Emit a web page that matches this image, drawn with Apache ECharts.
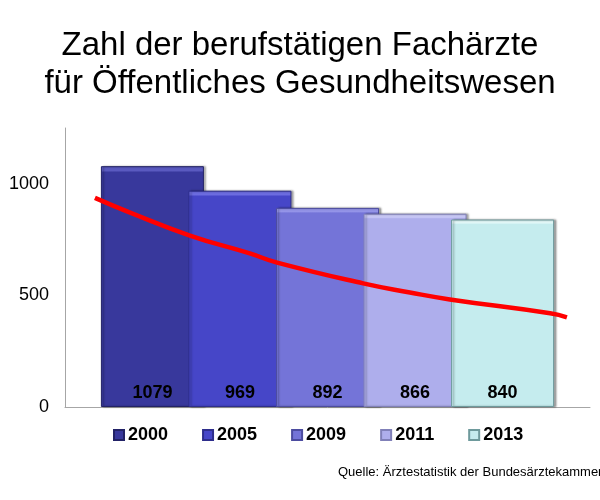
<!DOCTYPE html>
<html>
<head>
<meta charset="utf-8">
<script src="https://cdn.jsdelivr.net/npm/echarts@6/dist/echarts.min.js"></script>
<style>html,body{margin:0;padding:0;background:#fff}#c{width:600px;height:500px}</style>
</head>
<body>
<div id="c"></div>
<script>
const titleLines = ['Zahl der berufstätigen Fachärzte', 'für Öffentliches Gesundheitswesen'];
const years = ['2000', '2005', '2009', '2011', '2013'];
const values = [1079, 969, 892, 866, 840];
const colors = ['#38389c', '#4646c8', '#7474d8', '#aeaeec', '#c5ecee'];
const topColors = ['#5a5ac0', '#6c6ce0', '#9494e8', '#c8c8f6', '#e2f8f8'];
const edgeColors = ['#222266', '#2e2e8c', '#4c4ca0', '#8080b8', '#6e9a9c'];
const yTicks = [0, 500, 1000];
// trend curve: x as percent of plot width, y in data units
const trendX = [5.7, 12.4, 23.8, 35.2, 40.4, 56.8, 65.7, 73.3, 92.4, 95.6];
const trendY = [937, 871, 768, 688, 647, 554, 513, 482, 420, 402];
const source = 'Quelle: Ärztestatistik der Bundesärztekammer';

const chart = echarts.init(document.getElementById('c'));
const barSeries = years.map((y, i) => ({
  name: y,
  type: 'bar',
  xAxisIndex: 0,
  data: [values[i]],
  barWidth: 103,
  barGap: '-15%',
  itemStyle: {
    color: new echarts.graphic.LinearGradient(0, 0, 0, 1, [
      {offset: 0, color: topColors[i]},
      {offset: 0.018, color: topColors[i]},
      {offset: 0.026, color: colors[i]},
      {offset: 1, color: colors[i]}
    ]),
    borderColor: edgeColors[i],
    borderWidth: 1,
    shadowColor: 'rgba(0,0,0,0.35)',
    shadowOffsetX: 2,
    shadowOffsetY: 0,
    shadowBlur: 2
  },
  label: {
    show: true,
    position: 'insideBottom',
    distance: 5,
    color: '#000',
    fontFamily: 'Liberation Sans, Arial, sans-serif',
    fontWeight: 'bold',
    fontSize: 18
  },
  emphasis: {disabled: true}
}));

chart.setOption({
  animation: false,
  backgroundColor: '#fff',
  textStyle: {fontFamily: 'Liberation Sans, Arial, sans-serif'},
  title: {
    text: titleLines.join('\n'),
    left: 'center',
    top: 22,
    textStyle: {fontSize: 33, fontWeight: 'normal', color: '#000', lineHeight: 38, fontFamily: 'Liberation Sans, Arial, sans-serif'}
  },
  legend: {
    data: years,
    left: 108,
    top: 421,
    itemWidth: 10,
    itemHeight: 10,
    itemGap: 34,
    icon: 'rect',
    textStyle: {fontSize: 18, fontWeight: 'bold', color: '#000', padding: [0, 0, 0, -1]}
  },
  graphic: [{
    type: 'text',
    left: 338,
    top: 466,
    style: {text: source, fontSize: 13, fill: '#000', fontFamily: 'Liberation Sans, Arial, sans-serif'}
  }],
  grid: {left: 65, right: 10, top: 128, bottom: 93},
  xAxis: [{
    type: 'category',
    data: [''],
    axisLine: {show: true, lineStyle: {color: '#a6a6a6', width: 1}},
    axisTick: {show: false},
    axisLabel: {show: false}
  }, {
    type: 'value',
    min: 0,
    max: 100,
    show: false
  }],
  yAxis: {
    type: 'value',
    min: 0,
    max: 1250,
    interval: 500,
    axisLine: {show: true, lineStyle: {color: '#a6a6a6', width: 1}},
    axisTick: {show: false},
    splitLine: {show: false},
    axisLabel: {
      showMaxLabel: false,
      fontSize: 18,
      color: '#000',
      margin: 16,
      formatter: v => yTicks.includes(v) ? String(v) : ''
    }
  },
  series: barSeries.concat([{
    name: 'Trend',
    type: 'line',
    xAxisIndex: 1,
    data: trendX.map((x, i) => [x, trendY[i]]),
    smooth: true,
    symbol: 'none',
    z: 10,
    lineStyle: {color: '#ff0000', width: 4.5},
    emphasis: {disabled: true}
  }])
});
</script>
</body>
</html>
